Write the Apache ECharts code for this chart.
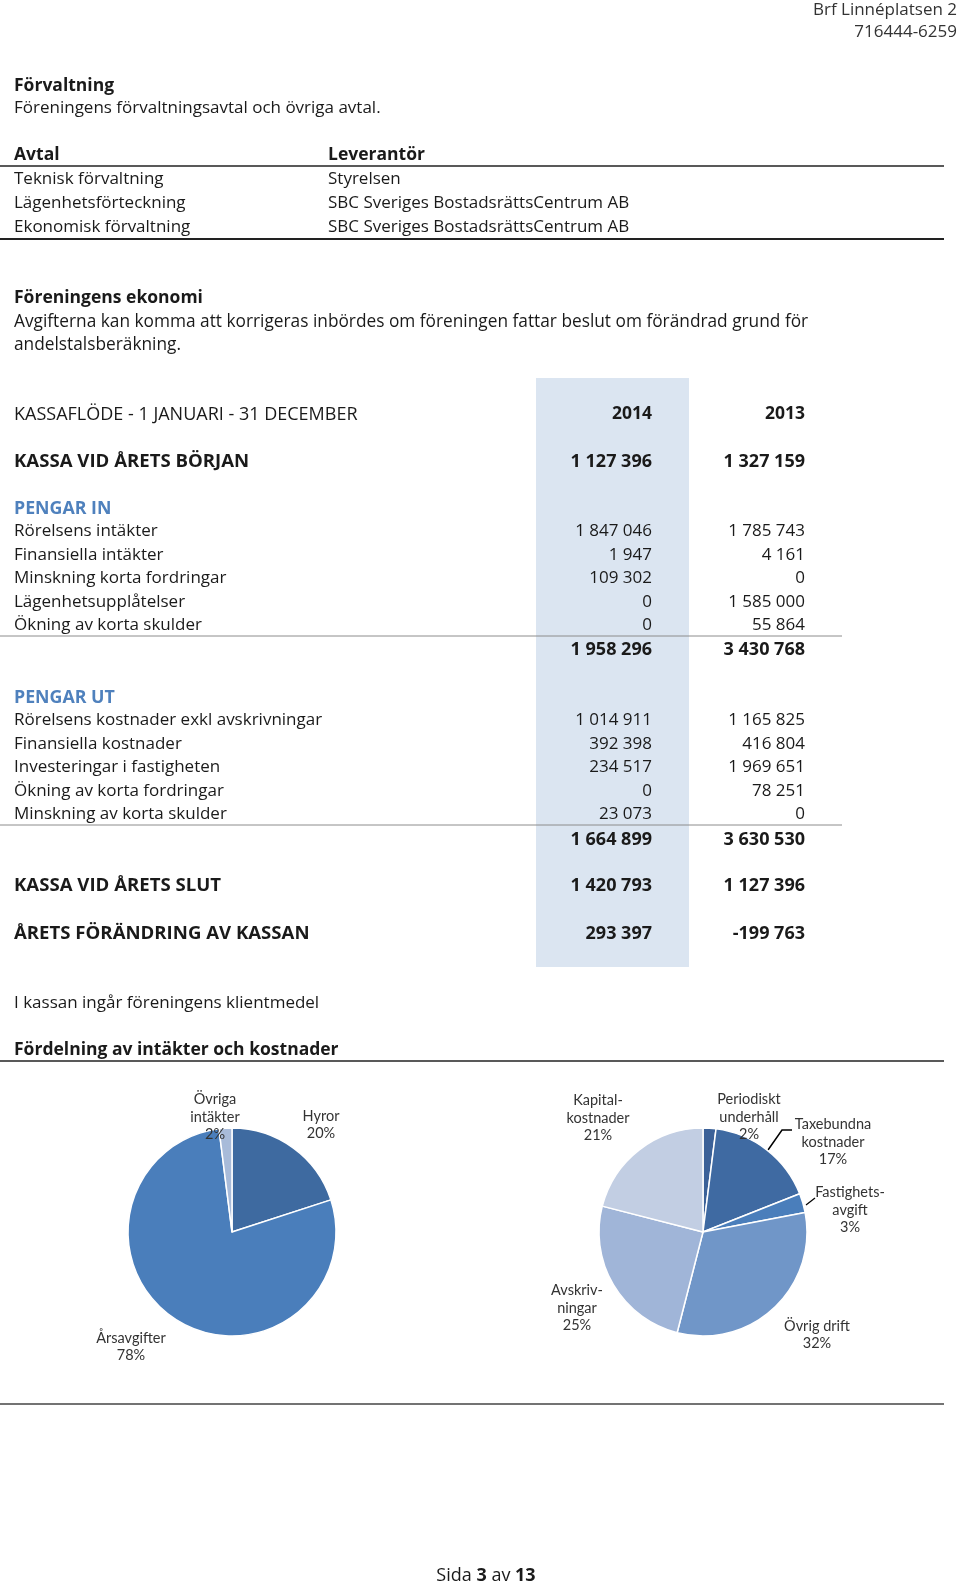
<!DOCTYPE html>
<html><head><meta charset="utf-8">
<script src="https://cdn.jsdelivr.net/npm/echarts@6/dist/echarts.min.js"></script>
<style>html,body{margin:0;padding:0;background:#fff}#c{width:960px;height:1587px}</style>
</head><body><div id="c"></div>
<script>
// ---------- data ----------
const headerLines = ['Brf Linnéplatsen 2', '716444-6259'];
const contractCols = ['Avtal', 'Leverantör'];
const contractNames = ['Teknisk förvaltning', 'Lägenhetsförteckning', 'Ekonomisk förvaltning'];
const contractSuppliers = ['Styrelsen', 'SBC Sveriges BostadsrättsCentrum AB', 'SBC Sveriges BostadsrättsCentrum AB'];
const years = ['2014', '2013'];
const openingCash = [1127396, 1327159];
const inItems = ['Rörelsens intäkter', 'Finansiella intäkter', 'Minskning korta fordringar', 'Lägenhetsupplåtelser', 'Ökning av korta skulder'];
const in2014 = [1847046, 1947, 109302, 0, 0];
const in2013 = [1785743, 4161, 0, 1585000, 55864];
const inTotal = [1958296, 3430768];
const outItems = ['Rörelsens kostnader exkl avskrivningar', 'Finansiella kostnader', 'Investeringar i fastigheten', 'Ökning av korta fordringar', 'Minskning av korta skulder'];
const out2014 = [1014911, 392398, 234517, 0, 23073];
const out2013 = [1165825, 416804, 1969651, 78251, 0];
const outTotal = [1664899, 3630530];
const closingCash = [1420793, 1127396];
const cashChange = [293397, -199763];

const incomeNames = ['Hyror', 'Årsavgifter', 'Övriga\nintäkter'];
const incomeValues = [20, 78, 2];
const costNames = ['Periodiskt\nunderhåll', 'Taxebundna\nkostnader', 'Fastighets-\navgift', 'Övrig drift', 'Avskriv-\nningar', 'Kapital-\nkostnader'];
const costValues = [2, 17, 3, 32, 25, 21];

// ---------- styling / layout ----------
const FF = '"Open Sans", "Noto Sans", sans-serif';
const FL = 'Lato, "Open Sans", sans-serif';
const TXT = '#1a1a1a';
const BLUE = '#4f81bd';
const DY = 1.5;
const fmt = v => (v < 0 ? '-' : '') + String(Math.abs(v)).replace(/\B(?=(\d{3})+(?!\d))/g, ' ');
const g = [];
function t(text, x, y, o) {
  o = o || {};
  g.push({type: 'text', silent: true, style: {
    text, x, y: y + DY, fill: o.fill || TXT, textAlign: o.align || 'left', textVerticalAlign: 'middle',
    font: (o.weight || '400') + ' ' + (o.size || (o.weight === 'bold' ? 17.5 : 17)) + 'px ' + FF }});
}
function line(x1, y1, x2, y2, c, w) {
  g.push({type: 'line', silent: true, shape: {x1, y1, x2, y2}, style: {stroke: c, lineWidth: w}});
}
// band
g.push({type: 'rect', silent: true, z: -10, shape: {x: 536, y: 378, width: 153, height: 589}, style: {fill: '#dbe5f1'}});

t(headerLines[0], 957, 9, {align: 'right', size: 17, fill: '#333'});
t(headerLines[1], 957, 31, {align: 'right', size: 17, fill: '#333'});
t('Förvaltning', 14, 85, {weight: 'bold'});
t('Föreningens förvaltningsavtal och övriga avtal.', 14, 107);
t(contractCols[0], 14, 154, {weight: 'bold'});
t(contractCols[1], 328, 154, {weight: 'bold'});
line(0, 166, 944, 166, '#222', 1.5);
contractNames.forEach((n, i) => { t(n, 14, 178 + i * 24, {}); t(contractSuppliers[i], 328, 178 + i * 24); });
line(0, 239, 944, 239, '#222', 2);

t('Föreningens ekonomi', 14, 297, {weight: 'bold'});
t('Avgifterna kan komma att korrigeras inbördes om föreningen fattar beslut om förändrad grund för', 14, 321, {size: 17.3});
t('andelstalsberäkning.', 14, 344, {size: 17.3});

const X14 = 652, X13 = 805;
t('KASSAFLÖDE - 1 JANUARI - 31 DECEMBER', 14, 413, {size: 18});
t(years[0], X14, 413, {align: 'right', weight: 'bold'});
t(years[1], X13, 413, {align: 'right', weight: 'bold'});
t('KASSA VID ÅRETS BÖRJAN', 14, 460, {weight: 'bold', size: 18.6});
t(fmt(openingCash[0]), X14, 460, {align: 'right', weight: 'bold', size: 18});
t(fmt(openingCash[1]), X13, 460, {align: 'right', weight: 'bold', size: 18});

t('PENGAR IN', 14, 507, {weight: 'bold', fill: BLUE, size: 17.8});
inItems.forEach((n, i) => {
  const y = 530 + i * 23.5;
  t(n, 14, y); t(fmt(in2014[i]), X14, y, {align: 'right'}); t(fmt(in2013[i]), X13, y, {align: 'right'});
});
line(0, 636, 842, 636, '#8c8c8c', 1);
t(fmt(inTotal[0]), X14, 648, {align: 'right', weight: 'bold', size: 18});
t(fmt(inTotal[1]), X13, 648, {align: 'right', weight: 'bold', size: 18});

t('PENGAR UT', 14, 696, {weight: 'bold', fill: BLUE, size: 17.8});
outItems.forEach((n, i) => {
  const y = 719 + i * 23.5;
  t(n, 14, y); t(fmt(out2014[i]), X14, y, {align: 'right'}); t(fmt(out2013[i]), X13, y, {align: 'right'});
});
line(0, 825, 842, 825, '#8c8c8c', 1);
t(fmt(outTotal[0]), X14, 838, {align: 'right', weight: 'bold', size: 18});
t(fmt(outTotal[1]), X13, 838, {align: 'right', weight: 'bold', size: 18});

t('KASSA VID ÅRETS SLUT', 14, 884, {weight: 'bold', size: 18.6});
t(fmt(closingCash[0]), X14, 884, {align: 'right', weight: 'bold', size: 18});
t(fmt(closingCash[1]), X13, 884, {align: 'right', weight: 'bold', size: 18});
t('ÅRETS FÖRÄNDRING AV KASSAN', 14, 932, {weight: 'bold', size: 18.6});
t(fmt(cashChange[0]), X14, 932, {align: 'right', weight: 'bold', size: 18});
t(fmt(cashChange[1]), X13, 932, {align: 'right', weight: 'bold', size: 18});

t('I kassan ingår föreningens klientmedel', 14, 1002);
t('Fördelning av intäkter och kostnader', 14, 1049, {weight: 'bold'});
line(0, 1061, 944, 1061, '#222', 1.5);
line(0, 1404, 944, 1404, '#444', 1.5);

// footer
g.push({type: 'text', silent: true, style: {
  text: '{n|Sida }{b|3}{n| av }{b|13}', x: 486, y: 1576, textAlign: 'center', textVerticalAlign: 'middle',
  rich: {n: {fontFamily: FF, fontSize: 18, fontWeight: 400, fill: TXT}, b: {fontFamily: FF, fontSize: 18, fontWeight: 'bold', fill: TXT}}
}});

// leader lines for two cost labels
g.push({type: 'polyline', silent: true, shape: {points: [[768, 1150], [782, 1130], [792, 1130]]}, style: {stroke: '#000', lineWidth: 1.5, fill: null}});
g.push({type: 'polyline', silent: true, shape: {points: [[806, 1205], [815, 1198]]}, style: {stroke: '#000', lineWidth: 1.2, fill: null}});

const incomeColors = ['#3e6aa0', '#4a7ebb', '#a8bbd9'];
const costColors = ['#3b6198', '#3f6aa2', '#4a7ebb', '#7096c8', '#a0b5d8', '#c2cee3'];
const incomeLabelPos = [[321, 1125], [131, 1347], [215, 1117]];
const costLabelPos = [[749, 1117], [833, 1142], [850, 1210], [817, 1335], [577, 1308], [598, 1118]];

function pieSeries(names, values, colors, center, labelPos) {
  return {
    type: 'pie', center, radius: 104, startAngle: 90, clockwise: true, silent: true,
    percentPrecision: 0,
    data: names.map((n, i) => ({name: n, value: values[i], itemStyle: {color: colors[i]}})),
    itemStyle: {borderColor: '#fff', borderWidth: 1.5},
    label: {show: true, position: 'outside', formatter: '{b}\n{d}%', fontFamily: FL, fontSize: 14.5,
      fontWeight: 400, color: '#333', lineHeight: 17.5, align: 'center'},
    labelLine: {show: false},
    labelLayout: p => ({x: labelPos[p.dataIndex][0], y: labelPos[p.dataIndex][1], align: 'center', verticalAlign: 'middle'})
  };
}

const chart = echarts.init(document.getElementById('c'), null, {renderer: 'canvas'});
chart.setOption({
  animation: false,
  backgroundColor: '#fff',
  graphic: {elements: g},
  series: [
    pieSeries(incomeNames, incomeValues, incomeColors, [232, 1232], incomeLabelPos),
    pieSeries(costNames, costValues, costColors, [703, 1232], costLabelPos)
  ]
});
</script></body></html>
